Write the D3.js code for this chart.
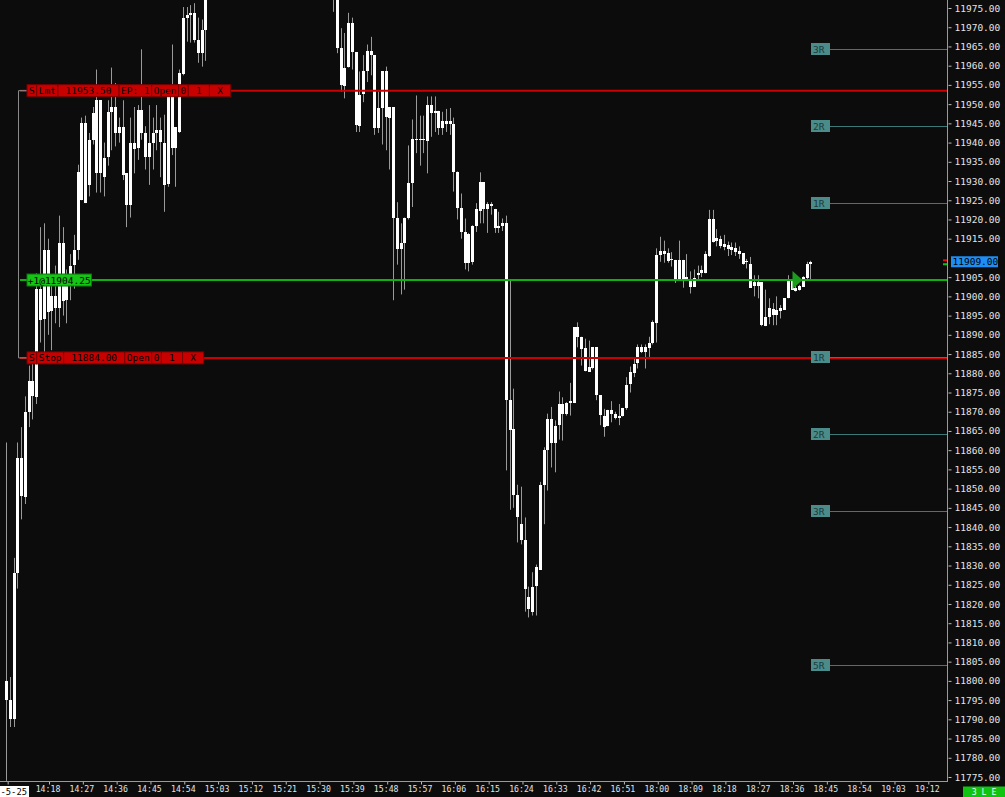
<!DOCTYPE html>
<html>
<head>
<meta charset="utf-8">
<script src="https://cdn.jsdelivr.net/npm/d3@7"></script>
<style>
body { margin: 0; background: #0c0c0c; }
svg { display: block; }
text { font-family: 'DejaVu Sans Mono', 'Liberation Mono', monospace; }
</style>
</head>
<body>
<div id="chart"></div>
<script>
// 1 minute bars, first bar is 14:07 (index -11), 14:18 is index 0
const firstIndex = -11;

const opens = [
  11800, 11795, 11790, 11828, 11858, 11848, 11870, 11878, 11874, 11902,
  11894, 11912, 11896, 11900, 11897, 11914, 11899, 11904, 11908, 11912,
  11925, 11945, 11929, 11940.75, 11951, 11932, 11936, 11936.25, 11948, 11949.25,
  11942.5, 11944, 11932, 11923.75, 11940, 11938.5, 11948.5, 11942.5, 11936.25, 11940,
  11942.5, 11943.25, 11940, 11929, 11952, 11938.5, 11942.75, 11958, 11972.5, 11973.25,
  11973.75, 11966.75, 11963.25, 11969.25, 11980, 11984, 11988, 11986, 11990, 11994,
  11992, 11995, 11998, 11996, 11993, 11997, 11999, 12001, 12003, 12000,
  11997, 11995, 11993, 11996, 11994, 11991, 11989, 11992, 11990, 11987,
  11989, 11986, 11984, 11986, 11983, 11985, 11982, 11984, 11981, 11964.5,
  11954.75, 11959.5, 11971, 11963.5, 11944.5, 11952.5, 11958.5, 11963.75, 11962.75, 11943.75,
  11949, 11958.5, 11946.5, 11949.25, 11920.5, 11912.5, 11914, 11920.5, 11929.5, 11941,
  11940.75, 11941, 11940.5, 11949.75, 11947.75, 11948.25, 11943.75, 11945.5, 11944.75, 11944.75,
  11932.25, 11923, 11916.75, 11908.75, 11909, 11918.25, 11922.25, 11929.75, 11922.75, 11924,
  11922.75, 11917.75, 11918.25, 11919, 11873, 11865.5, 11848.25, 11840.75, 11836.75, 11821.75,
  11818, 11824.5, 11829, 11851, 11860, 11868, 11861.75, 11866.5, 11872, 11869.5,
  11872.25, 11872.25, 11892, 11889.5, 11886.5, 11880.5, 11881.25, 11886.75, 11874.25, 11869,
  11866.25, 11870.5, 11869.5, 11868.5, 11869, 11871, 11877, 11880.25, 11882.5, 11886.75,
  11885.5, 11886.75, 11887.75, 11893, 11910.75, 11911.75, 11911.25, 11909.5, 11909.5, 11904.25,
  11909.5, 11904.25, 11904.25, 11902.5, 11905.5, 11906, 11906, 11910.25, 11920, 11914.5,
  11915, 11913.75, 11913.25, 11912.75, 11912.5, 11911.75, 11911.25, 11909.25, 11908.5, 11902.75,
  11903.75, 11903.75, 11892.5, 11894.75, 11896.75, 11895.25, 11896.25, 11896.5, 11899.5, 11904.25,
  11902.25, 11901.75, 11902.5, 11904.75, 11908.5
];
const highs = [
  11862, 11801, 11832, 11862, 11866, 11874, 11882, 11884, 11906, 11918,
  11919, 11915, 11905, 11908, 11921, 11918, 11907, 11911, 11916, 11934.25,
  11946.5, 11947, 11942.5, 11949.25, 11959, 11951, 11940, 11951, 11959.5, 11955.5,
  11946.5, 11951, 11932, 11946.5, 11949.25, 11949.75, 11964.25, 11944.25, 11949.75, 11946.5,
  11949.75, 11946.5, 11947.25, 11952, 11965.5, 11944, 11959, 11975.25, 11975.25, 11975.75,
  11976.25, 11972.5, 11972, 11982, 11986, 11990, 11993, 11992, 11996, 11999,
  11997, 12001, 12003, 12000, 11998, 12002, 12004, 12006, 12007, 12004,
  12001, 11999, 11997, 12000, 11998, 11995, 11994, 11996, 11994, 11991,
  11993, 11990, 11988, 11990, 11987, 11988, 11986, 11986, 11983, 11969.75,
  11968.5, 11973.75, 11972.5, 11963.5, 11958.5, 11962.75, 11965.5, 11967.5, 11962.75, 11953.25,
  11958.5, 11959.75, 11949.25, 11949.25, 11924.5, 11919, 11920.5, 11939.25, 11946, 11952.25,
  11947, 11947, 11952, 11952, 11952, 11948.25, 11948, 11948.75, 11949, 11946.5,
  11932.5, 11926.75, 11920.25, 11916.5, 11918.5, 11924.25, 11932.25, 11929.75, 11924.5, 11924.5,
  11922.75, 11922, 11920.25, 11921, 11904.25, 11876, 11851, 11850.5, 11842.5, 11824.5,
  11828.25, 11830.25, 11851.75, 11860.75, 11869.5, 11871.25, 11867.75, 11875.25, 11873.75, 11872.5,
  11877.5, 11892, 11893.25, 11889.5, 11889, 11888.5, 11886.75, 11886.75, 11874.25, 11870.75,
  11870.5, 11872.75, 11870, 11872, 11871, 11879, 11881.75, 11884, 11887.5, 11887.5,
  11887.5, 11889.5, 11893.75, 11912.5, 11915.5, 11914.5, 11912.5, 11911.5, 11909.5, 11914.5,
  11909.5, 11911, 11906.5, 11907, 11908, 11908, 11911.75, 11922.5, 11922.5, 11917.5,
  11915.75, 11916, 11914.25, 11914, 11914, 11913, 11911.25, 11909.75, 11910.25, 11905.5,
  11905.5, 11903.75, 11901.75, 11899.5, 11898.25, 11900, 11897.75, 11899.5, 11905.5, 11904.25,
  11902.75, 11903, 11905.25, 11909, 11909.25
];
const lows = [
  11774, 11788, 11788, 11824, 11842, 11846, 11866, 11868, 11872, 11888,
  11884, 11890, 11886, 11893, 11892, 11895, 11893, 11899, 11902, 11909.5,
  11925, 11924.25, 11926, 11939.5, 11927, 11927, 11926, 11934, 11938, 11939,
  11940, 11930.25, 11918, 11920.5, 11932, 11935.5, 11940.75, 11933, 11929, 11933,
  11938, 11931, 11922, 11928.5, 11936.75, 11928.5, 11942.5, 11957.5, 11966.25, 11966,
  11966, 11960.75, 11959.75, 11961.25, 11978, 11981, 11984, 11982, 11987, 11990,
  11988, 11992, 11994, 11991, 11989, 11993, 11995, 11997, 11998, 11995,
  11992, 11990, 11988, 11991, 11989, 11986, 11985, 11987, 11985, 11983,
  11984, 11982, 11980, 11981, 11979, 11980, 11978, 11974, 11963.25, 11953.25,
  11951.5, 11959.5, 11959, 11942.75, 11942.75, 11950.5, 11955.75, 11957.5, 11942, 11942.5,
  11939.5, 11938, 11933, 11899, 11908.25, 11900.5, 11901.75, 11920, 11923.25, 11937.25,
  11934, 11937.25, 11932, 11941.5, 11942.75, 11942, 11942, 11942.75, 11942, 11927.25,
  11920, 11915, 11907, 11906.5, 11908.25, 11916.75, 11919, 11919, 11916.5, 11921.25,
  11916.5, 11916.5, 11917, 11854.75, 11844.5, 11845, 11836, 11835.5, 11818, 11816.5,
  11817, 11817, 11829, 11840.75, 11849.5, 11855.5, 11854.25, 11862.75, 11862.5, 11869,
  11869, 11872.25, 11886.75, 11882, 11880.5, 11880.5, 11881, 11873, 11866.5, 11863.5,
  11866.25, 11867.25, 11868, 11866.5, 11868.75, 11870.5, 11875, 11879, 11881.25, 11885.25,
  11881.25, 11884.25, 11887.5, 11888, 11909, 11908.75, 11908.75, 11907.75, 11903.5, 11904.25,
  11902.25, 11904, 11900.75, 11902.5, 11904.25, 11905, 11906, 11910.25, 11914, 11913,
  11912.5, 11912, 11910.5, 11910.75, 11910.5, 11909.75, 11908.25, 11907.25, 11902.25, 11900,
  11899.5, 11892.25, 11892.25, 11892.75, 11892.5, 11892.5, 11894.25, 11896.5, 11899.5, 11901.75,
  11901.25, 11901.5, 11902.5, 11904.5, 11904.5
];
const closes = [
  11795, 11790, 11828, 11858, 11848, 11870, 11878, 11874, 11902, 11894,
  11912, 11896, 11900, 11897, 11914, 11899, 11904, 11908, 11912, 11932.25,
  11945, 11924.25, 11940.75, 11947.75, 11932, 11951, 11931, 11948, 11949.25, 11942.5,
  11944, 11931.5, 11923.75, 11940, 11938.5, 11948.5, 11942.5, 11936.25, 11940, 11942.5,
  11943.25, 11940, 11929, 11952, 11938.5, 11944, 11958, 11972.5, 11973.25, 11973.75,
  11966.75, 11963.25, 11969.25, 11980, 11984, 11988, 11986, 11990, 11994, 11992,
  11995, 11998, 11996, 11993, 11997, 11999, 12001, 12003, 12000, 11997,
  11995, 11993, 11996, 11994, 11991, 11989, 11992, 11990, 11987, 11989,
  11986, 11984, 11986, 11983, 11985, 11982, 11980, 11981, 11964.5, 11954.75,
  11959.5, 11971, 11963.5, 11944.5, 11952.5, 11958.5, 11963.75, 11962.75, 11943.75, 11949,
  11958.5, 11946.5, 11949.25, 11920.5, 11912.5, 11914, 11920.5, 11929.5, 11941, 11940.75,
  11941, 11940.75, 11949.75, 11947.75, 11948.25, 11943.75, 11945.5, 11944.75, 11945.5, 11932.25,
  11923, 11916.75, 11908.75, 11916.25, 11918.25, 11922.75, 11929.75, 11922.75, 11924, 11923.5,
  11917.75, 11918.25, 11919, 11873, 11865.25, 11848.25, 11842.5, 11836.5, 11824, 11818.5,
  11824.5, 11829.5, 11851, 11860, 11868, 11861.75, 11866.25, 11872, 11869.5, 11872.25,
  11872.75, 11892, 11889.5, 11886.5, 11880.5, 11881.75, 11886.75, 11874.25, 11869, 11866.25,
  11870.5, 11869.5, 11868.5, 11869, 11871, 11877, 11880.25, 11882.5, 11886.75, 11885.5,
  11886.75, 11888, 11893.25, 11910.75, 11911.75, 11911, 11909.25, 11909.75, 11904.25, 11909.5,
  11904.25, 11905, 11902.5, 11904.75, 11906, 11906.75, 11911, 11920, 11914, 11915.25,
  11913.25, 11913, 11912.25, 11912, 11911.5, 11911, 11908.5, 11909, 11902.25, 11903.75,
  11902.75, 11892.5, 11894.75, 11897, 11895.25, 11896.5, 11897, 11899.5, 11904.25, 11901.75,
  11901.5, 11902.75, 11905, 11908.5, 11909
];

// time axis
const tickBars = [-11, 0, 9, 18, 27, 36, 45, 54, 63, 72, 81, 90, 99, 108, 117, 126, 135, 144,
  153, 162, 171, 180, 189, 198, 207, 216, 225, 234];
const tickLabels = ['-5-25', '14:18', '14:27', '14:36', '14:45', '14:54', '15:03', '15:12', '15:21',
  '15:30', '15:39', '15:48', '15:57', '16:06', '16:15', '16:24', '16:33', '16:42', '16:51',
  '18:00', '18:09', '18:18', '18:27', '18:36', '18:45', '18:54', '19:03', '19:12'];

// orders / position
const limitPrice = 11953.50;
const stopPrice = 11884.00;
const fillPrice = 11904.25;
const fillBar = 198;
const lastPrice = 11909.00;
const askPrice = 11909.25;
const bidPrice = 11908.75;
const limitCells = ['S', 'Lmt', ' 11953.50 ', 'EP: 1', 'Open', '0', ' 1 ', ' X '];
const stopCells = ['S', 'Stop', ' 11884.00 ', 'Open', '0', ' 1 ', ' X '];
const fillText = '+1@11904.25';

// R multiples
const rLevels = [11964.25, 11944.25, 11924.25, 11884.25, 11864.25, 11844.25, 11804.25];
const rLabels = ['3R', '2R', '1R', '1R', '2R', '3R', '5R'];

const width = 1005, height = 797;
const plotW = 947, plotH = 781;
const charW = 5.72;

const svg = d3.select('#chart').append('svg')
  .attr('width', width)
  .attr('height', height)
  .style('background', '#0c0c0c');

const x = d3.scaleLinear().domain([0, 234]).range([47.5, 926.8]);
const xTick = d3.scaleLinear().domain([0, 234]).range([49, 928.3]);
const y = d3.scaleLinear().domain([11775, 11975]).range([777, 8]);

svg.append('clipPath').attr('id', 'plot')
  .append('rect').attr('x', 0).attr('y', 0).attr('width', plotW).attr('height', plotH);

const plot = svg.append('g').attr('clip-path', 'url(#plot)');

const bars = opens.map((o, k) => ({
  i: k + firstIndex, o: o, h: highs[k], l: lows[k], c: closes[k]
}));

// candles
plot.append('g')
  .selectAll('line')
  .data(bars)
  .join('line')
  .attr('x1', d => Math.round(x(d.i)) + 0.5)
  .attr('x2', d => Math.round(x(d.i)) + 0.5)
  .attr('y1', d => y(d.h))
  .attr('y2', d => y(d.l))
  .style('stroke', '#9a9a9a')
  .style('stroke-width', 1);

plot.append('g')
  .selectAll('rect')
  .data(bars)
  .join('rect')
  .attr('x', d => Math.round(x(d.i)) - 1)
  .attr('width', 3)
  .attr('y', d => Math.round(y(Math.max(d.o, d.c))))
  .attr('height', d => Math.max(1, Math.round(Math.abs(y(d.o) - y(d.c)))))
  .attr('fill', '#ffffff');

// order lines
function orderLine(price, color, width) {
  const yy = y(price);
  plot.append('line')
    .attr('x1', 20).attr('x2', plotW)
    .attr('y1', yy).attr('y2', yy)
    .style('stroke', color).style('stroke-width', width);
}
orderLine(limitPrice, '#cc0000', 2);
orderLine(fillPrice, '#10b010', 2);
orderLine(stopPrice, '#cc0000', 2);

// R lines
const rg = plot.append('g');
rLevels.forEach((v, k) => {
  const yy = Math.round(y(v)) + 0.5;
  rg.append('line')
    .attr('x1', 830).attr('x2', plotW)
    .attr('y1', yy).attr('y2', yy)
    .style('stroke', '#3e7878').style('stroke-width', 1);
  rg.append('rect')
    .attr('x', 811).attr('y', yy - 6.5)
    .attr('width', 19).attr('height', 12)
    .attr('fill', '#4b8b89');
  rg.append('text')
    .attr('x', 813).attr('y', yy + 3.5)
    .attr('font-size', '9.5px')
    .attr('fill', '#1c3c3c')
    .text(rLabels[k]);
});

// bracket between target and stop
plot.append('path')
  .attr('d', `M27,${y(limitPrice)}H18.5V${y(stopPrice)}H27`)
  .style('fill', 'none').style('stroke', '#8a8a8a').style('stroke-width', 1);

function orderLabel(cells, price, fill, edge, pad) {
  const yy = y(price);
  const g = svg.append('g');
  let cx = 27;
  cells.forEach(t => {
    const w = t.length * charW + pad;
    g.append('rect')
      .attr('x', cx).attr('y', yy - 6)
      .attr('width', w).attr('height', 12)
      .attr('fill', fill)
      .style('stroke', edge).style('stroke-width', 1);
    g.append('text')
      .attr('x', cx + w / 2).attr('y', yy + 3.5)
      .attr('text-anchor', 'middle')
      .attr('font-size', '9.5px')
      .attr('fill', '#000')
      .text(t.trim());
    cx += w;
  });
}
orderLabel(limitCells, limitPrice, '#c80000', '#7a0000', 4);
orderLabel(stopCells, stopPrice, '#c80000', '#7a0000', 4);
orderLabel([fillText], fillPrice, '#16c416', '#0c7a0c', 1.5);

// execution marker
const ex = x(fillBar) + 1, ey = y(fillPrice);
plot.append('path')
  .attr('d', `M${ex},${ey - 9}L${ex + 10},${ey}L${ex},${ey + 9}Z`)
  .attr('fill', '#1c9c1c');

// right price axis, the label under the last price tag is hidden
const ly = y(lastPrice);
const yAxis = d3.axisRight(y)
  .tickValues(d3.range(11775, 11976, 5).filter(v => Math.abs(y(v) - ly) > 9))
  .tickFormat(d3.format('.2f'))
  .tickSize(3)
  .tickPadding(3);
const ya = svg.append('g')
  .attr('transform', `translate(${plotW + 1.5},0)`)
  .call(yAxis);
ya.select('.domain').remove();
ya.selectAll('line').style('stroke', '#bbbbbb');
ya.selectAll('text')
  .attr('font-family', "'DejaVu Sans Mono', monospace")
  .attr('font-size', '9.5px')
  .attr('fill', '#e4e4e4');

svg.append('line')
  .attr('x1', plotW + 0.5).attr('x2', plotW + 0.5)
  .attr('y1', 0).attr('y2', plotH + 1)
  .style('stroke', '#9a9a9a');

// bid / ask marks
svg.append('rect').attr('x', 943).attr('y', y(askPrice) - 1.5).attr('width', 4).attr('height', 2).attr('fill', '#e01010');
svg.append('rect').attr('x', 943).attr('y', y(bidPrice) + 0.5).attr('width', 4).attr('height', 2).attr('fill', '#10c010');

// last price tag
svg.append('rect')
  .attr('x', 951).attr('y', ly - 5.5)
  .attr('width', 47).attr('height', 11)
  .attr('fill', '#1e8ef5');
svg.append('text')
  .attr('x', 952.5).attr('y', ly + 3.5)
  .attr('font-size', '9.5px')
  .attr('fill', '#000')
  .text(d3.format('.2f')(lastPrice));

// bottom time axis
const xAxis = d3.axisBottom(xTick)
  .tickValues(tickBars)
  .tickFormat((d, k) => tickLabels[k])
  .tickSize(3)
  .tickPadding(2);
const xa = svg.append('g')
  .attr('transform', `translate(0,${plotH + 0.5})`)
  .call(xAxis);
xa.select('.domain').remove();
xa.selectAll('line').style('stroke', '#bbbbbb');
xa.selectAll('text')
  .attr('font-family', "'DejaVu Sans Mono', monospace")
  .attr('font-size', '8.2px')
  .attr('fill', '#e4e4e4')
  .attr('dx', -1.5);

// date label at the left edge
xa.selectAll('.tick').filter(d => d === tickBars[0]).select('text').remove();
svg.append('rect')
  .attr('x', 0).attr('y', 786)
  .attr('width', 29).attr('height', 11)
  .attr('fill', '#ffffff');
svg.append('text')
  .attr('x', 0.5).attr('y', 795)
  .attr('font-size', '8.8px')
  .attr('fill', '#000')
  .text(tickLabels[0]);

svg.append('line')
  .attr('x1', 0).attr('x2', plotW + 1)
  .attr('y1', plotH + 0.5).attr('y2', plotH + 0.5)
  .style('stroke', '#9a9a9a');

// connection status box
svg.append('rect')
  .attr('x', 963).attr('y', 786.5)
  .attr('width', 42).attr('height', 10.5)
  .attr('fill', '#12c412');
svg.append('text')
  .attr('x', 984).attr('y', 795)
  .attr('text-anchor', 'middle')
  .attr('font-size', '8.2px')
  .attr('fill', '#eafaea')
  .text('3 L E');
</script>
</body>
</html>
